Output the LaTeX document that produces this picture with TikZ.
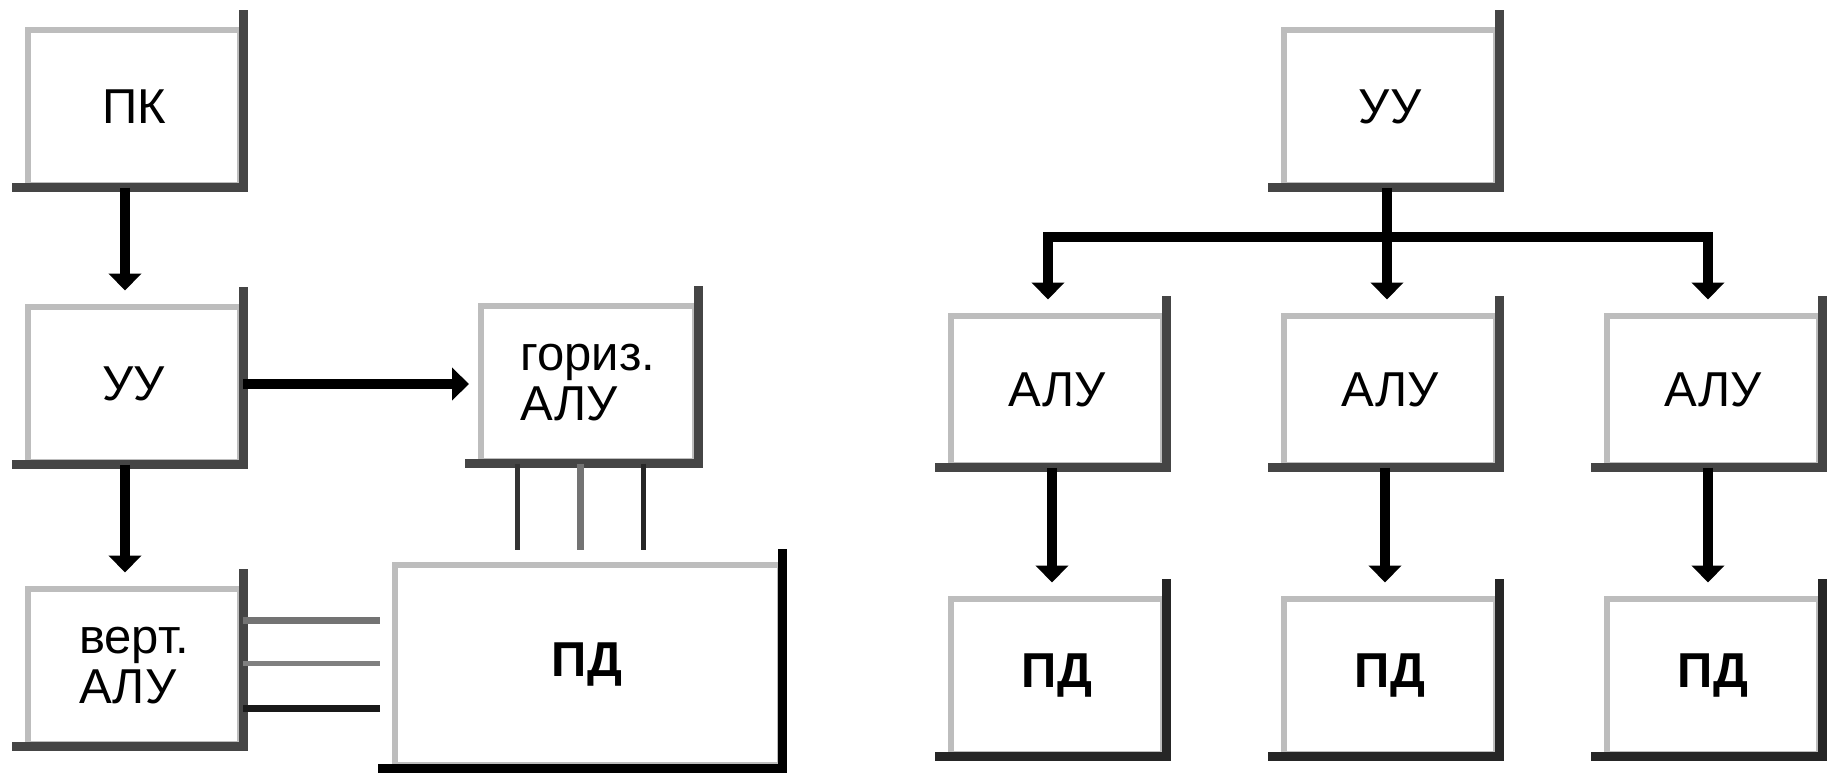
\documentclass[tikz,border=0pt]{standalone}
\usepackage{fontspec}
\setmainfont{Liberation Sans}
\usetikzlibrary{arrows.meta}
\definecolor{lightedge}{gray}{0.74}
\definecolor{darkedge}{gray}{0.27}
\begin{document}
\begin{tikzpicture}[x=1pt,y=-1pt,
  box/.style={draw=lightedge, line width=6pt, fill=white, minimum width=212pt,
    minimum height=155pt, inner sep=0pt, align=left,
    font=\fontsize{49}{50}\selectfont},
  dedge/.style={draw=darkedge, line width=9pt, line cap=rect, line join=miter},
  arr/.style={line width=10pt, line join=miter, -{Triangle[width=32pt,length=17pt]}, shorten >=13pt},
  thinline/.style={line width=5pt},
]
\useasboundingbox (0,0) rectangle (1837,774);
\fill[white] (0,0) rectangle (1837,774);

% left diagram
\node[box] (pk) at (134,107) {ПК};
\node[box] (uuL) at (134,384) {УУ};
\node[box] (vert) at (134,666) {верт.\\АЛУ};
\node[box, minimum width=214pt] (hor) at (588,383) {гориз.\\АЛУ};
\node[box, minimum width=385pt, minimum height=200pt] (pdbig) at (587,665) {\textbf{ПД}};

% right diagram
\node[box] (uuR) at (1390,107) {УУ};
\node[box, minimum height=149pt] (alu1) at (1057,390) {АЛУ};
\node[box, minimum height=149pt] (alu2) at (1390,390) {АЛУ};
\node[box, minimum height=149pt] (alu3) at (1713,390) {АЛУ};
\node[box] (pd1) at (1057,676) {\textbf{ПД}};
\node[box] (pd2) at (1390,676) {\textbf{ПД}};
\node[box] (pd3) at (1713,676) {\textbf{ПД}};

% dark bevel edges
\foreach \n in {pk,uuL,vert,hor,uuR,alu1,alu2,alu3}
  \draw[dedge] ([yshift=12pt]\n.north east) -- (\n.south east) -- ([xshift=-9pt]\n.south west);
\foreach \n in {pd1,pd2,pd3}
  \draw[dedge, draw=black!85] ([yshift=12pt]\n.north east) -- (\n.south east) -- ([xshift=-9pt]\n.south west);
\draw[dedge, draw=black] ([yshift=9pt]pdbig.north east) -- (pdbig.south east) -- ([xshift=-9pt]pdbig.south west);

% left connectors
\draw[arr] ([xshift=-9pt]pk.south) -- ([xshift=-9pt]uuL.north);
\draw[arr] ([xshift=-9pt]uuL.south) -- ([xshift=-9pt]vert.north);
\draw[arr, shorten >=9pt] (uuL.east) -- (uuL.east -| hor.west);

\draw[thinline, draw=black!80, shorten >=12pt] ([xshift=-71pt]hor.south) -- ([xshift=-71pt]hor.south |- pdbig.north);
\draw[thinline, line width=7pt, draw=black!55, shorten >=12pt] ([xshift=-8pt]hor.south) -- ([xshift=-8pt]hor.south |- pdbig.north);
\draw[thinline, draw=black!85, shorten >=12pt] ([xshift=55pt]hor.south) -- ([xshift=55pt]hor.south |- pdbig.north);

\draw[thinline, line width=7pt, draw=black!55, shorten >=12pt] ([yshift=46pt]vert.east) -- ([yshift=46pt]vert.east -| pdbig.west);
\draw[thinline, line width=5pt, draw=black!50, shorten >=12pt] ([yshift=3pt]vert.east) -- ([yshift=3pt]vert.east -| pdbig.west);
\draw[thinline, line width=7pt, draw=black!90, shorten >=12pt] ([yshift=-42pt]vert.east) -- ([yshift=-42pt]vert.east -| pdbig.west);

% right connectors
\coordinate (bus) at (1387,237);
\draw[arr] ([xshift=-3pt]uuR.south) -- ([xshift=-3pt]alu2.north);
\draw[arr] (bus) -| ([xshift=-9pt]alu1.north);
\draw[arr] (bus) -| ([xshift=-5pt]alu3.north);
\draw[arr] ([xshift=-5pt]alu1.south) -- ([xshift=-5pt]pd1.north);
\draw[arr] ([xshift=-5pt]alu2.south) -- ([xshift=-5pt]pd2.north);
\draw[arr] ([xshift=-5pt]alu3.south) -- ([xshift=-5pt]pd3.north);
\end{tikzpicture}
\end{document}
